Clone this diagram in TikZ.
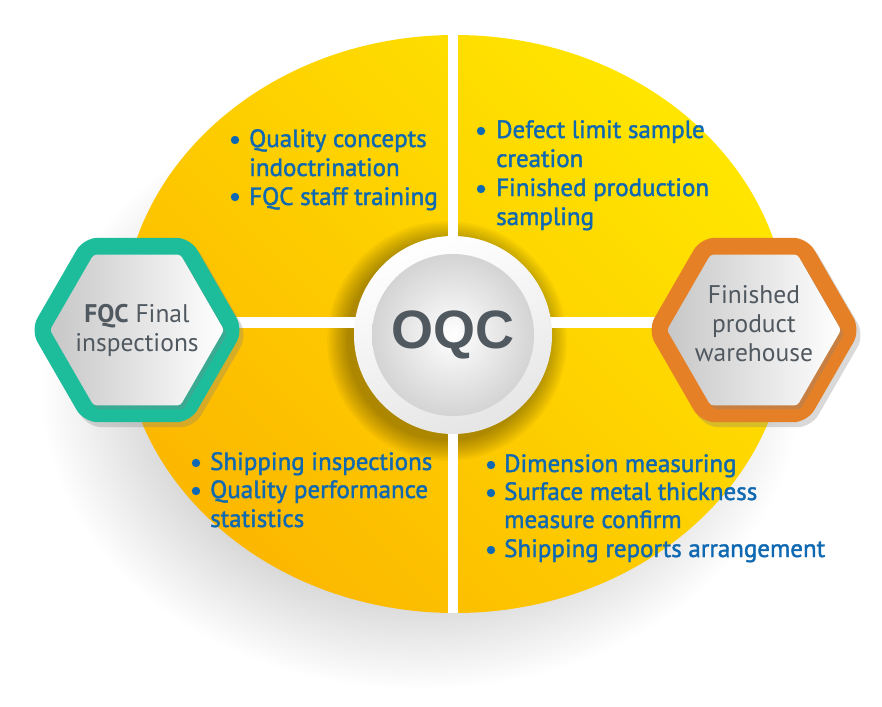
\documentclass[tikz,border=0pt]{standalone}
\usepackage{fontspec}
\setmainfont{PT Sans}
\newfontfamily\btfont[FakeBold=1.6]{PT Sans}
\newfontfamily\oqcfont{Liberation Sans}
\usetikzlibrary{shadows,shapes.geometric}
\definecolor{txtblue}{RGB}{14,104,178}
\definecolor{hexgray}{RGB}{80,88,96}
\definecolor{hexteal}{RGB}{29,189,155}
\definecolor{hexorange}{RGB}{230,128,38}
\definecolor{ylwA}{RGB}{255,230,0}
\definecolor{ylwB}{RGB}{252,183,0}
\pgfdeclareradialshading{ovalshadow}{\pgfpoint{0bp}{0bp}}{color(0bp)=(black!16); color(17bp)=(black!16); color(25bp)=(white); color(50bp)=(white)}
\tikzset{
  bul/.style={circle, fill=txtblue, minimum size=8.4pt, inner sep=0pt},
  btxt/.style={anchor=base west, inner sep=0pt, text=txtblue, font=\btfont\fontsize{25}{29}\selectfont},
  hexouter/.style={regular polygon, regular polygon sides=6, minimum size=213pt, inner sep=0pt, rounded corners=14pt, drop shadow={shadow xshift=4pt, shadow yshift=-5pt, opacity=0.3}},
  hexinner/.style={regular polygon, regular polygon sides=6, minimum size=174pt, inner sep=0pt, rounded corners=3pt, left color=black!22, right color=white, drop shadow={shadow xshift=3pt, shadow yshift=-4pt, opacity=0.3}},
  hextext/.style={align=center, inner sep=0pt, text=hexgray, font=\fontsize{25.5}{29}\selectfont},
}
\begin{document}
\begin{tikzpicture}[x=1pt,y=-1pt]
\useasboundingbox (0,0) rectangle (882,706);
% soft shadow of the oval
\shade[shading=ovalshadow] (420,390) ellipse (380 and 300);
% oval
\shade[top color=ylwB, bottom color=ylwA, shading angle=135] (455,324) ellipse (333 and 289);
% halo of the centre disc and the white gaps
\begin{scope}
\clip (455,324) ellipse (333 and 289);
\foreach \r in {0,...,9} \fill[black, opacity=0.035] (447,341) circle ({100+2.2*\r});
\fill[white] (448,0) rectangle (458,706);
\fill[white] (0,317) rectangle (882,328);
\end{scope}
% centre disc
\node[circle, minimum size=198pt, inner sep=0pt, top color=white, bottom color=black!10, shading angle=20] (ring) at (453,335) {};
\node[circle, minimum size=162pt, inner sep=0pt, inner color=white, outer color=black!17, text=hexgray, font=\oqcfont\bfseries\fontsize{54}{54}\selectfont] (oqc) at (453,335) {OQC};
% hexagons
\node[hexouter, fill=hexteal] (fqcout) at (137,330) {};
\node[hexinner] (fqcin) at (137,330) {};
\node[hextext] (fqctxt) at (137,330) {\textbf{FQC} Final\\inspections};
\node[hexouter, fill=hexorange] (whout) at (754,330) {};
\node[hexinner] (whin) at (754,330) {};
\node[hextext] (whtxt) at (754,324) {Finished\\product\\warehouse};
% top-left block
\node[bul] (b1) at (235,140) {};
\node[btxt] (t1) at (249,147) {Quality concepts};
\node[btxt] (t2) at (249,176) {indoctrination};
\node[bul] (b2) at (235,197) {};
\node[btxt] (t3) at (249,205) {FQC staff training};
% top-right block
\node[bul] (b3) at (481,131) {};
\node[btxt] (t4) at (496,138) {Defect limit sample};
\node[btxt] (t5) at (496,167) {creation};
\node[bul] (b4) at (481,189) {};
\node[btxt] (t6) at (496,196) {Finished production};
\node[btxt] (t7) at (496,225) {sampling};
% bottom-left block
\node[bul] (b5) at (196,463) {};
\node[btxt] (t8) at (210,470) {Shipping inspections};
\node[bul] (b6) at (196,491) {};
\node[btxt] (t9) at (210,498) {Quality performance};
\node[btxt] (t10) at (210,527) {statistics};
% bottom-right block
\node[bul] (b7) at (491,465) {};
\node[btxt] (t11) at (504,472) {Dimension measuring};
\node[bul] (b8) at (491,493) {};
\node[btxt] (t12) at (504,500) {Surface metal thickness};
\node[btxt] (t13) at (504,528) {measure confirm};
\node[bul] (b9) at (491,550) {};
\node[btxt] (t14) at (504,557) {Shipping reports arrangement};
\end{tikzpicture}
\end{document}
